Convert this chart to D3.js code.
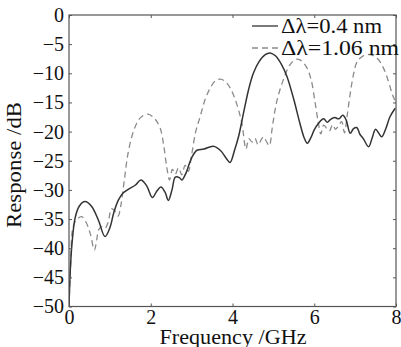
<!DOCTYPE html>
<html><head><meta charset="utf-8">
<script src="https://cdn.jsdelivr.net/npm/d3@7"></script>
<style>
body{margin:0;background:#fff;}
svg text{font-family:'Liberation Serif',serif;fill:#111;}
</style></head>
<body><svg id="c" width="401" height="347"></svg>
<script>
const xTicks = [0, 2, 4, 6, 8];
const yTicks = [0, -5, -10, -15, -20, -25, -30, -35, -40, -45, -50];
const seriesNames = ["\u0394\u03bb=0.4 nm", "\u0394\u03bb=1.06 nm"];

const freqA = [0,0.03,0.07,0.15,0.25,0.39,0.55,0.72,0.88,1.0,1.1,1.21,1.33,1.45,1.62,1.76,1.9,2.04,2.15,2.25,2.35,2.43,2.52,2.6,2.7,2.76,2.85,3.0,3.13,3.3,3.53,3.7,3.85,3.94,4.05,4.15,4.27,4.39,4.51,4.65,4.8,4.92,5.05,5.2,5.33,5.5,5.65,5.75,5.83,5.92,6.0,6.1,6.23,6.32,6.4,6.5,6.6,6.7,6.78,6.88,6.96,7.04,7.12,7.2,7.33,7.42,7.5,7.58,7.65,7.75,7.85,7.98];
const respA = [-50,-44,-39.5,-34.8,-32.8,-32.0,-32.8,-35.2,-38.0,-36.5,-33.8,-31.7,-30.5,-29.9,-29.2,-28.3,-29.3,-31.3,-30.2,-29.5,-30.4,-31.8,-30.0,-27.8,-27.9,-28.3,-27.3,-24.5,-23.2,-23.0,-22.5,-23.2,-24.6,-25.3,-23.2,-20.8,-16.8,-12.9,-10.0,-8.0,-6.8,-6.5,-7.0,-8.5,-10.5,-14.5,-18.6,-21.0,-22.0,-21.0,-19.7,-18.6,-17.8,-18.4,-17.9,-17.6,-17.8,-17.2,-18.0,-20.3,-19.5,-19.3,-20.5,-21.2,-22.6,-21.0,-19.6,-20.3,-20.9,-19.5,-17.5,-16.0];

const freqB = [0,0.04,0.1,0.2,0.31,0.42,0.52,0.62,0.68,0.72,0.8,0.88,0.96,1.04,1.12,1.2,1.26,1.35,1.45,1.6,1.75,1.93,2.1,2.23,2.32,2.39,2.46,2.53,2.6,2.68,2.76,2.84,2.92,3.0,3.1,3.21,3.33,3.45,3.58,3.7,3.82,3.95,4.1,4.23,4.33,4.4,4.48,4.55,4.63,4.7,4.76,4.83,4.9,4.97,5.04,5.12,5.25,5.4,5.55,5.65,5.8,5.92,6.02,6.1,6.16,6.23,6.3,6.37,6.45,6.52,6.6,6.67,6.74,6.8,6.88,6.96,7.05,7.2,7.37,7.55,7.7,7.82,7.92,8.0];
const respB = [-50,-43,-36.3,-35.0,-34.6,-35.6,-37.5,-40.3,-38.5,-36.9,-36.3,-36.6,-35.5,-33.2,-33.6,-34.5,-33.0,-28.5,-23.5,-19.5,-17.6,-17.0,-17.8,-19.4,-22.5,-26.0,-28.3,-26.5,-27.3,-26.2,-27.4,-25.8,-26.8,-24.0,-20.0,-17.4,-14.5,-12.6,-11.3,-11.0,-11.4,-12.6,-15.2,-18.6,-23.0,-21.2,-21.8,-21.2,-22.3,-21.4,-20.9,-21.7,-22.4,-19.5,-16.3,-13.8,-11.0,-8.6,-7.6,-7.7,-8.8,-11.0,-15.0,-18.5,-20.4,-18.9,-19.4,-19.9,-18.8,-19.6,-18.9,-18.3,-20.2,-17.5,-13.5,-10.2,-8.0,-7.0,-6.8,-7.5,-9.2,-11.5,-13.8,-15.0];

const L = 69, R = 396, T = 15, B = 306.5;
const svg = d3.select("#c");
const x = d3.scaleLinear().domain([0, 8]).range([L, R]);
const y = d3.scaleLinear().domain([-50, 0]).range([B, T]);
const axisColor = "#555";
const FF = "Liberation Serif";

svg.append("defs").append("clipPath").attr("id","clip")
  .append("rect").attr("x",L).attr("y",T).attr("width",R-L).attr("height",B-T);

const line = d3.line().x(d=>x(d[0])).y(d=>y(d[1])).curve(d3.curveCatmullRom.alpha(0.5));
const dataA = freqA.map((f,i)=>[f,respA[i]]);
const dataB = freqB.map((f,i)=>[f,respB[i]]);

const g = svg.append("g").attr("clip-path","url(#clip)");
g.append("path").datum(dataB).attr("d",line).attr("fill","none")
  .attr("stroke","#8a8a8a").attr("stroke-width",1.3).attr("stroke-dasharray","6,4");
g.append("path").datum(dataA).attr("d",line).attr("fill","none")
  .attr("stroke","#333").attr("stroke-width",1.5);

const ax = (a, tr) => svg.append("g").attr("transform", tr).call(a)
  .attr("font-family", FF)
  .call(s=>{ s.select(".domain").remove(); s.selectAll("line").attr("stroke",axisColor); });
const bottom = ax(d3.axisBottom(x).tickValues(xTicks).tickSize(-3).tickPadding(3).tickFormat(d3.format("d")), `translate(0,${B})`);
bottom.selectAll("text").attr("font-size",20).attr("fill","#111");
ax(d3.axisTop(x).tickValues(xTicks).tickSize(-3).tickFormat(""), `translate(0,${T})`);
const left = ax(d3.axisLeft(y).tickValues(yTicks).tickSize(-3).tickPadding(5).tickFormat(d=>d===0?"0":"\u2212"+Math.abs(d)), `translate(${L},0)`);
left.selectAll("text").attr("font-size",20).attr("fill","#111");
ax(d3.axisRight(y).tickValues(yTicks).tickSize(-3).tickFormat(""), `translate(${R},0)`);

svg.append("rect").attr("x",L).attr("y",T).attr("width",R-L).attr("height",B-T)
  .attr("fill","none").attr("stroke",axisColor).attr("stroke-width",1.2);

const leg = [[seriesNames[0],"#333",null,26,101],[seriesNames[1],"#8a8a8a","6,4",48,118]];
leg.forEach(([t,c,da,yy,w])=>{
  svg.append("line").attr("x1",252).attr("x2",278).attr("y1",yy).attr("y2",yy)
    .attr("stroke",c).attr("stroke-width",1.3).attr("stroke-dasharray",da);
  svg.append("text").attr("x",281).attr("y",yy).attr("dy","0.35em")
    .attr("font-size",20).attr("textLength",w).attr("lengthAdjust","spacingAndGlyphs").text(t);
});

svg.append("text").attr("x",233).attr("y",344).attr("text-anchor","middle")
  .attr("font-size",20).attr("textLength",147).attr("lengthAdjust","spacingAndGlyphs").text("Frequency /GHz");
svg.append("text").attr("transform","translate(21,165) rotate(-90)").attr("text-anchor","middle")
  .attr("font-size",20).attr("textLength",126).attr("lengthAdjust","spacingAndGlyphs").text("Response /dB");
</script></body></html>
